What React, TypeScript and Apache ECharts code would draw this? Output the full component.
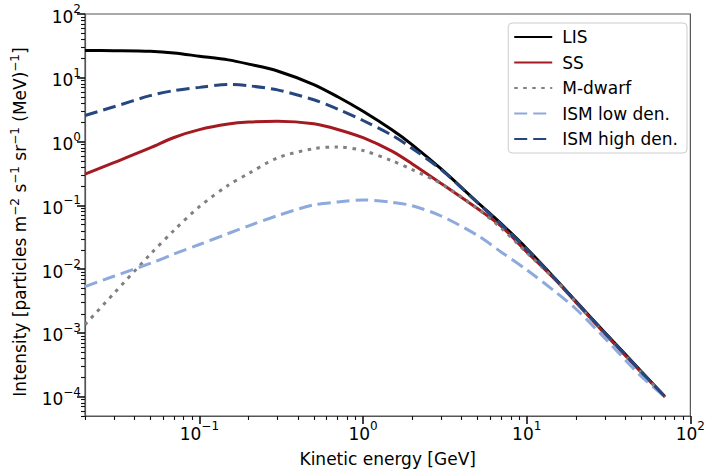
import React, { useEffect, useRef } from 'react';
import * as echarts from 'echarts';

// Kinetic energy [GeV]
const energies = [0.02, 0.03, 0.05, 0.07, 0.1, 0.15, 0.2, 0.3, 0.5, 0.7, 1, 1.5, 2, 3, 5, 7, 10, 15, 20, 30, 50, 70];

// Intensity [particles m^-2 s^-1 sr^-1 (MeV)^-1]
const lisValues = [26.8, 26.6, 26.0, 24.5, 21.8, 19.1, 16.4, 12.8, 7.85, 5.04, 2.98, 1.53, 0.89, 0.372, 0.112, 0.0513, 0.0211, 0.00702, 0.00313, 0.00102, 0.000251, 0.0001];
const ssValues = [0.310, 0.468, 0.794, 1.16, 1.54, 1.88, 2.02, 2.08, 1.90, 1.55, 1.15, 0.708, 0.447, 0.221, 0.0891, 0.0468, 0.0187, 0.00676, 0.00302, 0.000977, 0.000243, 0.0001];
const mDwarfValues = [0.00135, 0.00417, 0.0170, 0.0407, 0.0955, 0.207, 0.316, 0.556, 0.776, 0.822, 0.724, 0.501, 0.363, 0.219, 0.0891, 0.0437, 0.0182, 0.00676, 0.00302, 0.000977, 0.000243, 0.0001];
const ismLowValues = [0.00533, 0.00776, 0.0123, 0.0173, 0.0244, 0.0363, 0.0479, 0.0692, 0.102, 0.113, 0.122, 0.112, 0.0989, 0.0682, 0.0339, 0.0185, 0.00977, 0.00440, 0.00238, 0.00083, 0.00021, 0.0001];
const ismHighValues = [2.57, 3.51, 5.25, 6.31, 7.08, 7.85, 7.50, 6.46, 4.52, 3.24, 2.14, 1.26, 0.78, 0.363, 0.110, 0.0501, 0.0207, 0.00692, 0.00309, 0.00101, 0.000248, 0.0001];

const seriesNames = ['LIS', 'SS', 'M-dwarf', 'ISM low den.', 'ISM high den.'];

const xMajorTicks = [0.1, 1, 10, 100];
const yMajorTicks = [1e-4, 1e-3, 1e-2, 1e-1, 1, 10, 100];

const X_MIN = 0.02;
const X_MAX = 100;
const Y_MIN = 5e-5;
const Y_MAX = 100;

function minorTicks(lo: number, hi: number): number[] {
  const out: number[] = [];
  for (let n = -6; n <= 3; n++) {
    for (let k = 2; k <= 9; k++) {
      const v = parseFloat((k * Math.pow(10, n)).toPrecision(6));
      if (v >= lo * 0.9999 && v <= hi * 1.0001) out.push(v);
    }
  }
  return out;
}

const FONT = 'DejaVu Sans';

function powLabel(v: number): string {
  const e = Math.round(Math.log10(v));
  const es = e < 0 ? '\u2212' + -e : String(e);
  return `{b|10}{s|${es}}`;
}

const tickRich = {
  b: { fontSize: 17, lineHeight: 22, verticalAlign: 'bottom', fontFamily: FONT, color: '#000' },
  s: { fontSize: 12, lineHeight: 12, verticalAlign: 'top', fontFamily: FONT, color: '#000' },
};

export default function App() {
  const ref = useRef<HTMLDivElement>(null);

  useEffect(() => {
    if (!ref.current) return;
    const chart = echarts.init(ref.current, null, { renderer: 'svg' });

    const mk = (vals: number[]) => energies.map((e, i) => [e, vals[i]]);

    const lineSeries = (name: string, vals: number[], color: string, type: any) => ({
      name,
      type: 'line',
      data: mk(vals),
      showSymbol: false,
      symbol: 'none',
      smooth: 0.3,
      xAxisIndex: 0,
      yAxisIndex: 0,
      itemStyle: { color },
      lineStyle: { color, width: 3, type, cap: 'butt' },
    });

    const option: any = {
      animation: false,
      backgroundColor: '#fff',
      grid: {
        left: 85,
        right: 13,
        top: 14,
        bottom: 54,
        show: true,
        borderColor: '#555',
        borderWidth: 1.2,
      },
      legend: {
        orient: 'vertical',
        right: 21,
        top: 23,
        padding: [5, 9, 5, 5],
        itemGap: 7.5,
        itemWidth: 38,
        itemHeight: 14,
        borderColor: '#ccc',
        borderWidth: 1,
        borderRadius: 4,
        backgroundColor: 'rgba(255,255,255,0.8)',
        itemStyle: { opacity: 0 },
        textStyle: { fontSize: 17, fontFamily: FONT, color: '#000', lineHeight: 18, padding: [0, 0, 0, 5] },
        data: seriesNames,
      },
      xAxis: [
        {
          type: 'log',
          logBase: 10,
          min: X_MIN,
          max: X_MAX,
          position: 'bottom',
          axisLine: { show: true, lineStyle: { color: '#555', width: 1.2 } },
          axisTick: { show: true, length: 8, lineStyle: { color: '#111', width: 1.6 }, customValues: xMajorTicks },
          axisLabel: { customValues: xMajorTicks, formatter: powLabel, margin: 4, rich: tickRich },
          splitLine: { show: false },
          name: 'Kinetic energy [GeV]',
          nameLocation: 'middle',
          nameGap: 34,
          nameTextStyle: { fontSize: 17, fontFamily: FONT, color: '#000' },
        },
        {
          type: 'log',
          logBase: 10,
          min: X_MIN,
          max: X_MAX,
          position: 'bottom',
          axisLine: { show: false },
          axisTick: { show: true, length: 4, lineStyle: { color: '#111', width: 1.1 }, customValues: minorTicks(X_MIN, X_MAX) },
          axisLabel: { show: false },
          splitLine: { show: false },
        },
      ],
      yAxis: [
        {
          type: 'log',
          logBase: 10,
          min: Y_MIN,
          max: Y_MAX,
          position: 'left',
          axisLine: { show: true, lineStyle: { color: '#555', width: 1.2 } },
          axisTick: { show: true, length: 8, lineStyle: { color: '#111', width: 1.6 }, customValues: yMajorTicks },
          axisLabel: { customValues: yMajorTicks, formatter: powLabel, margin: 4, rich: tickRich },
          splitLine: { show: false },
        },
        {
          type: 'log',
          logBase: 10,
          min: Y_MIN,
          max: Y_MAX,
          position: 'left',
          axisLine: { show: false },
          axisTick: { show: true, length: 4, lineStyle: { color: '#111', width: 1.1 }, customValues: minorTicks(Y_MIN, Y_MAX) },
          axisLabel: { show: false },
          splitLine: { show: false },
        },
      ],
      graphic: [
        {
          type: 'text',
          x: 20,
          y: 222,
          rotation: Math.PI / 2,
          style: {
            text: 'Intensity [particles m{s|\u22122} s{s|\u22121} sr{s|\u22121} (MeV){s|\u22121}]',
            fontSize: 17,
            fontFamily: FONT,
            fill: '#000',
            align: 'center',
            verticalAlign: 'middle',
            lineHeight: 22,
            rich: {
              s: { fontSize: 12, lineHeight: 12, verticalAlign: 'top', fontFamily: FONT, fill: '#000' },
            },
          },
        },
      ],
      series: [
        lineSeries('LIS', lisValues, '#000000', 'solid'),
        lineSeries('SS', ssValues, '#a31b21', 'solid'),
        lineSeries('M-dwarf', mDwarfValues, '#808080', [3.5, 5.5]),
        lineSeries('ISM low den.', ismLowValues, '#8eaadc', [13, 6]),
        lineSeries('ISM high den.', ismHighValues, '#25467e', [13, 6]),
      ],
    };

    chart.setOption(option);
    return () => chart.dispose();
  }, []);

  return (
    <div
      ref={ref}
      style={{ position: 'fixed', left: 0, top: 0, width: 708, height: 472 }}
    />
  );
}
